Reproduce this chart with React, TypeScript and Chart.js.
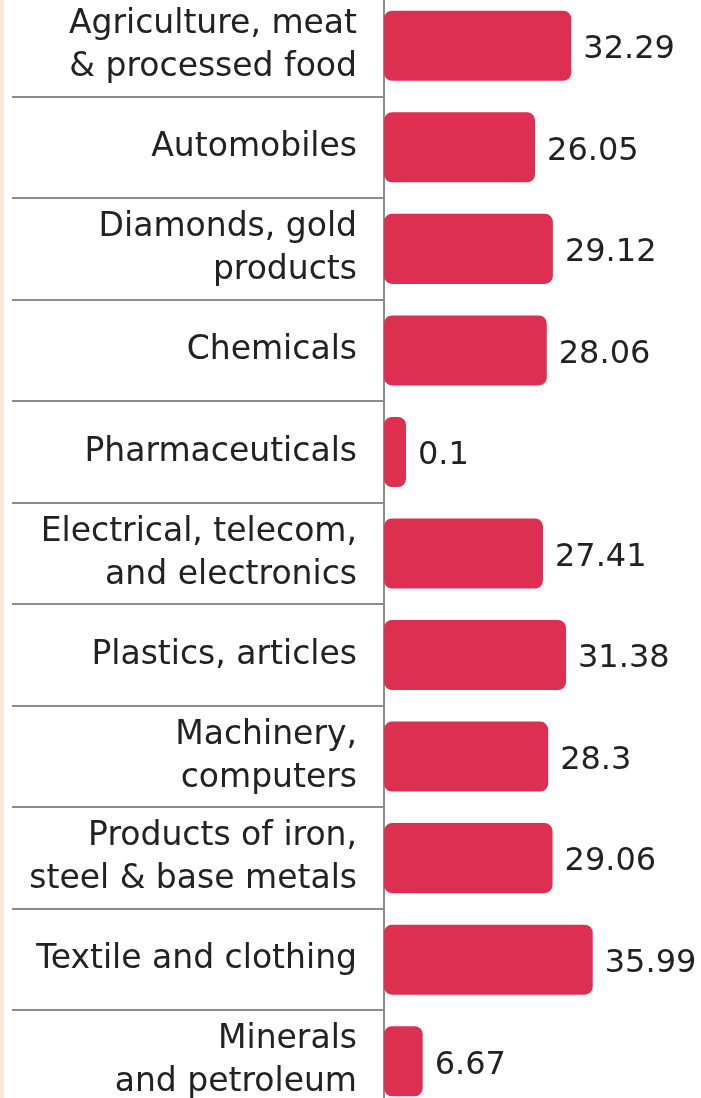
import React, { useEffect, useRef } from "react";
import { Chart, registerables } from "chart.js";

Chart.register(...registerables);

const categories: string[][] = [
  ["Agriculture, meat", "& processed food"],
  ["Automobiles"],
  ["Diamonds, gold", "products"],
  ["Chemicals"],
  ["Pharmaceuticals"],
  ["Electrical, telecom,", "and electronics"],
  ["Plastics, articles"],
  ["Machinery,", "computers"],
  ["Products of iron,", "steel & base metals"],
  ["Textile and clothing"],
  ["Minerals", "and petroleum"],
];

const values: number[] = [32.29, 26.05, 29.12, 28.06, 0.1, 27.41, 31.38, 28.3, 29.06, 35.99, 6.67];

const valueLabels: string[] = ["32.29", "26.05", "29.12", "28.06", "0.1", "27.41", "31.38", "28.3", "29.06", "35.99", "6.67"];

const BAR_COLOR = "#dd2f52";
const LINE_COLOR = "#8c8c8c";
const TEXT_COLOR = "#222222";
const FONT = "'DejaVu Sans', 'Noto Sans', sans-serif";

const valueLabelPlugin = {
  id: "valueLabels",
  afterDatasetsDraw(chart: any) {
    const ctx = chart.ctx;
    const meta = chart.getDatasetMeta(0);
    ctx.save();
    ctx.fillStyle = TEXT_COLOR;
    ctx.font = `500 32px ${FONT}`;
    ctx.textAlign = "left";
    ctx.textBaseline = "middle";
    meta.data.forEach((bar: any, i: number) => {
      ctx.fillText(valueLabels[i], bar.x + 12, bar.y + 4);
    });
    ctx.restore();
  },
};

export default function App() {
  const ref = useRef<HTMLCanvasElement | null>(null);

  useEffect(() => {
    if (!ref.current) return;
    const chart = new Chart(ref.current, {
      type: "bar",
      data: {
        labels: categories,
        datasets: [
          {
            data: values,
            backgroundColor: BAR_COLOR,
            borderRadius: 8,
            borderSkipped: false,
            categoryPercentage: 1,
            barPercentage: 0.69,
            minBarLength: 22,
          },
        ],
      },
      options: {
        indexAxis: "y",
        animation: false,
        responsive: false,
        devicePixelRatio: 1,
        layout: { padding: { left: 0, right: 85, top: 0, bottom: 0 } },
        plugins: {
          legend: { display: false },
          tooltip: { enabled: false },
        },
        scales: {
          x: {
            display: false,
            min: 0,
            max: 40,
          },
          y: {
            offset: true,
            afterFit: (scale: any) => {
              scale.width = 384;
            },
            border: { display: true, color: LINE_COLOR, width: 2 },
            grid: {
              offset: true,
              drawOnChartArea: false,
              drawTicks: true,
              tickLength: 372,
              color: LINE_COLOR,
              lineWidth: 2,
            },
            ticks: {
              padding: -345,
              color: TEXT_COLOR,
              font: { family: FONT, size: 33, lineHeight: 1.3 },
              autoSkip: false,
            },
          },
        },
      },
      plugins: [valueLabelPlugin],
    });
    return () => chart.destroy();
  }, []);

  return (
    <div
      style={{
        position: "fixed",
        left: 0,
        top: 0,
        width: 701,
        height: 1098,
        overflow: "hidden",
        background: "#ffffff",
      }}
    >
      <div style={{ position: "absolute", left: 0, top: 0, width: 4, height: 1098, background: "#f8e6d6" }} />
      <div style={{ position: "absolute", left: 0, top: -5, width: 701, height: 1117 }}>
        <canvas ref={ref} width={701} height={1117} style={{ width: 701, height: 1117 }} />
      </div>
    </div>
  );
}
